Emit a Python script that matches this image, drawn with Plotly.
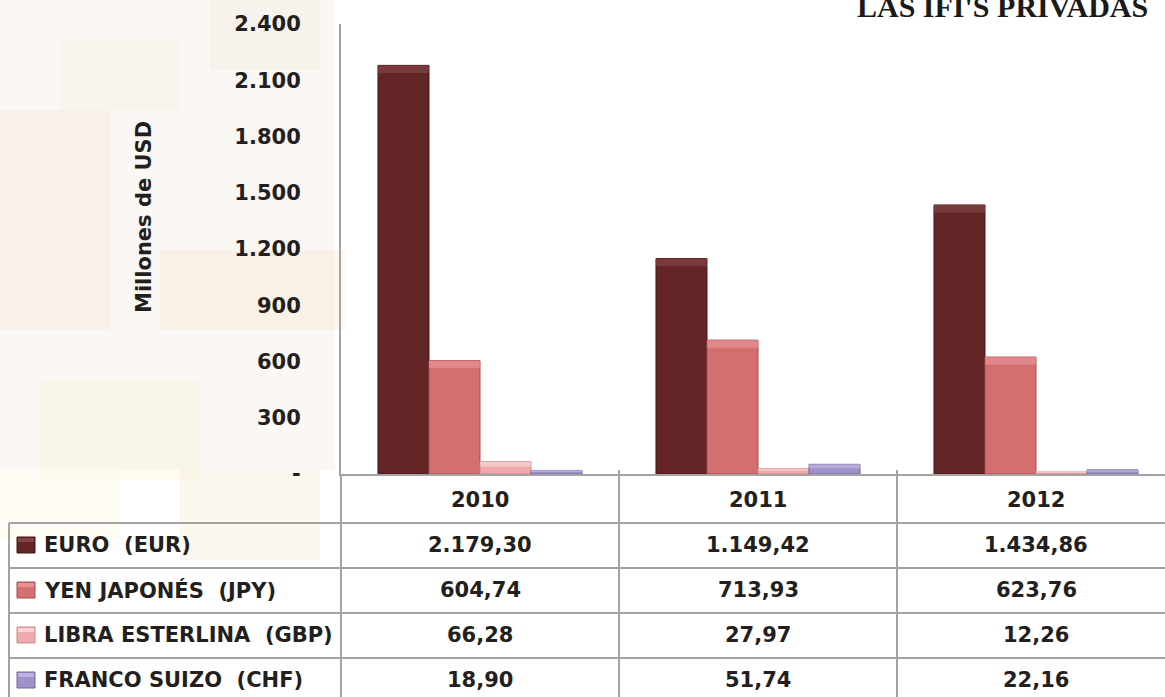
import plotly.graph_objects as go

# ---------------- data ----------------
years = ["2010", "2011", "2012"]
series_names = ["EURO\u00a0 (EUR)", "YEN JAPONÉS\u00a0 (JPY)",
                "LIBRA ESTERLINA\u00a0 (GBP)", "FRANCO SUIZO\u00a0 (CHF)"]
eur = [2179.30, 1149.42, 1434.86]
jpy = [604.74, 713.93, 623.76]
gbp = [66.28, 27.97, 12.26]
chf = [18.90, 51.74, 22.16]
y_tickvals = [0, 300, 600, 900, 1200, 1500, 1800, 2100, 2400]
y_ticktext = ["-", "300", "600", "900", "1.200", "1.500", "1.800", "2.100", "2.400"]
title_text = "LAS IFI'S PRIVADAS"
y_title = "Millones de USD"

colors = ["#632526", "#d46f70", "#eea9ac", "#a091c8"]
edges = ["#471617", "#a84c4e", "#c98a8d", "#73669a"]
highlights = ["#8a4a4b", "#e89a9b", "#fbdede", "#c6bce6"]

all_vals = [eur, jpy, gbp, chf]

# ---------------- geometry ----------------
W, H = 1165, 697
L, R, T, B = 341, 0, 24, 223
PW = W - L - R
PH = H - T - B


def px(xp):
    return (xp - L) / PW


def py(yp):
    return (H - B - yp) / PH


def fmt(v):
    s = f"{v:,.2f}"
    return s.replace(",", "X").replace(".", ",").replace("X", ".")


FONT = "DejaVu Sans"
TXT = "#231f20"
GRID = "#a3a3a3"

fig = go.Figure()

for i, (name, vals) in enumerate(zip(series_names, all_vals)):
    fig.add_trace(go.Bar(
        x=years, y=vals, name=name, offsetgroup=str(i),
        marker=dict(color=colors[i], line=dict(color=edges[i], width=1)),
        showlegend=False,
    ))
    hh = [min(40.0, v * 0.4) for v in vals]
    fig.add_trace(go.Bar(
        x=years, y=hh, base=[v - h for v, h in zip(vals, hh)],
        offsetgroup=str(i), marker=dict(color=highlights[i], line=dict(width=0)),
        opacity=0.6, showlegend=False, hoverinfo="skip",
    ))

shapes = []
# faint background texture on the left
blotches = [
    (0, 0, 335, 470, "rgba(236,228,214,0.28)"),
    (0, 110, 110, 330, "rgba(240,225,200,0.22)"),
    (160, 250, 345, 330, "rgba(245,220,180,0.22)"),
    (40, 380, 200, 480, "rgba(250,242,205,0.28)"),
    (180, 470, 320, 560, "rgba(245,230,200,0.28)"),
    (0, 470, 120, 540, "rgba(250,245,220,0.28)"),
    (210, 0, 320, 70, "rgba(238,230,212,0.25)"),
    (60, 40, 180, 110, "rgba(245,235,215,0.22)"),
]
for x0, y0, x1, y1, c in blotches:
    shapes.append(dict(type="rect", xref="paper", yref="paper",
                       x0=px(x0), x1=px(x1), y0=py(y0), y1=py(y1),
                       fillcolor=c, line=dict(width=0), layer="below"))

# table horizontal lines
for yy in [523, 568, 613, 658]:
    shapes.append(dict(type="line", xref="paper", yref="paper",
                       x0=px(9), x1=1, y0=py(yy), y1=py(yy),
                       line=dict(color=GRID, width=2)))
# table vertical lines
shapes.append(dict(type="line", xref="paper", yref="paper",
                   x0=px(9), x1=px(9), y0=py(523), y1=py(700),
                   line=dict(color=GRID, width=2)))
shapes.append(dict(type="line", xref="paper", yref="paper",
                   x0=0, x1=0, y0=0, y1=py(700),
                   line=dict(color=GRID, width=2)))
for b in [0.5, 1.5]:
    shapes.append(dict(type="line", xref="x", yref="paper",
                       x0=b, x1=b, y0=py(470), y1=py(700),
                       line=dict(color=GRID, width=2)))

annotations = []
# title (cut off at the top, as in the source)
annotations.append(dict(text=title_text, xref="paper", yref="paper",
                        x=px(1002), y=py(25), xanchor="center", yanchor="bottom",
                        showarrow=False,
                        font=dict(family="Liberation Serif", size=30, color="#1a1a1a", weight=700)))
# y title
annotations.append(dict(text=y_title, xref="paper", yref="paper",
                        x=px(144), y=py(217), xanchor="center", yanchor="middle",
                        textangle=-90, showarrow=False,
                        font=dict(family=FONT, size=21, color=TXT, weight=700)))
# header years
for j, yr in enumerate(years):
    annotations.append(dict(text=yr, xref="x", yref="paper", x=j, y=py(500),
                            xanchor="center", yanchor="middle", showarrow=False,
                            font=dict(family=FONT, size=21, color=TXT, weight=700)))
row_centers = [545, 590, 635, 680]
for i, (name, vals) in enumerate(zip(series_names, all_vals)):
    yc = row_centers[i]
    shapes.append(dict(type="rect", xref="paper", yref="paper",
                       x0=px(17), x1=px(35), y0=py(yc - 8), y1=py(yc + 8),
                       fillcolor=colors[i], line=dict(color=edges[i], width=1)))
    shapes.append(dict(type="rect", xref="paper", yref="paper",
                       x0=px(18), x1=px(34), y0=py(yc - 7), y1=py(yc - 3),
                       fillcolor=highlights[i], line=dict(width=0), opacity=0.8))
    annotations.append(dict(text=name, xref="paper", yref="paper",
                            x=px(42), y=py(yc), xanchor="left", yanchor="middle",
                            showarrow=False,
                            font=dict(family=FONT, size=21, color=TXT, weight=700)))
    for j, v in enumerate(vals):
        annotations.append(dict(text=fmt(v), xref="x", yref="paper", x=j, y=py(yc),
                                xanchor="center", yanchor="middle", showarrow=False,
                                font=dict(family=FONT, size=21, color=TXT, weight=700)))

fig.update_layout(
    width=W, height=H,
    margin=dict(l=L, r=R, t=T, b=B, pad=0),
    paper_bgcolor="white", plot_bgcolor="white",
    barmode="group", bargap=0.266, bargroupgap=0,
    shapes=shapes, annotations=annotations,
    xaxis=dict(type="category", categoryorder="array", categoryarray=years,
               range=[-0.5, -0.5 + PW / 278.0],
               showticklabels=False, ticks="", showgrid=False,
               showline=True, linecolor=GRID, linewidth=2, zeroline=False),
    yaxis=dict(range=[0, 2400], tickvals=y_tickvals, ticktext=y_ticktext,
               ticks="", ticklabelstandoff=34, showgrid=False,
               showline=True, linecolor=GRID, linewidth=2, zeroline=False,
               tickfont=dict(family=FONT, size=21, color=TXT, weight=700)),
    font=dict(family=FONT),
)

fig.write_html("out.html",
               config={"displayModeBar": False},
               post_script="document.body.style.margin='0px';document.body.style.overflow='hidden';")
